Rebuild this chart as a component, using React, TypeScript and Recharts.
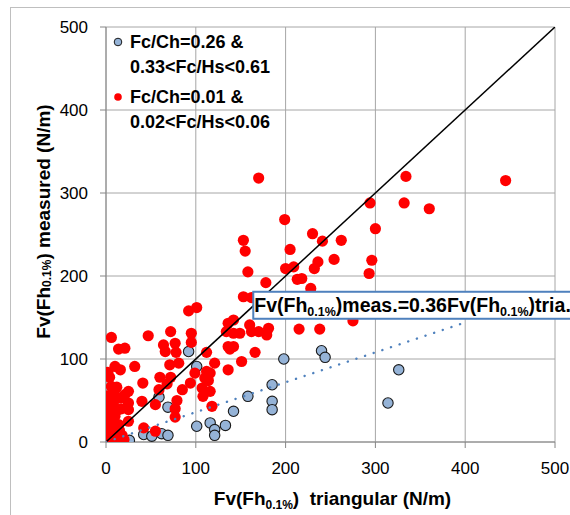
import React from 'react';
import {
  ScatterChart,
  Scatter,
  XAxis,
  YAxis,
  CartesianGrid,
  Legend,
  Label,
  ReferenceDot,
} from 'recharts';

// Axis ticks (N/m)
const axisTicks = [0, 100, 200, 300, 400, 500];

// Series 1: Fc/Ch=0.26 & 0.33<Fc/Hs<0.61
const seriesALabel = ['Fc/Ch=0.26 &', '0.33<Fc/Hs<0.61'];
const seriesAX = [3, 8, 13, 26, 42, 51, 62, 69, 59, 69, 92, 101, 101, 116, 121, 121, 133, 142, 158, 185, 185, 185, 198, 240, 244, 314, 326];
const seriesAY = [1, 2, 2, 2, 9, 7, 10, 8, 54, 42, 109, 91, 19, 23, 15, 8, 20, 37, 55, 69, 49, 39, 100, 110, 102, 47, 87];

// Series 2: Fc/Ch=0.01 & 0.02<Fc/Hs<0.06
const seriesBLabel = ['Fc/Ch=0.01 &', '0.02<Fc/Hs<0.06'];
const seriesBX = [
  445, 170, 334, 332, 360, 294, 300, 296, 293, 262,
  254, 241, 230, 236, 232, 205, 209, 213, 218, 228,
  215, 238, 275, 199, 153, 155, 158, 200, 178, 153,
  162, 101, 92, 142, 136, 142, 134, 149, 160, 162,
  170, 181, 179, 136, 142, 138, 166, 151, 121, 136,
  112, 116, 110, 114, 107, 116, 108, 118, 112, 99,
  6, 47, 72, 95, 14, 21, 64, 66, 77, 78,
  95, 10, 16, 32, 71, 81, 41, 6, 72, 68,
  85, 94, 25, 21, 16, 5, 25, 40, 55, 77,
  60, 59, 79, 77, 25, 42, 55, 25, 3, 6,
  10, 5, 8, 5, 14, 3, 1, 2, 4, 1,
  6, 3, 7, 2, 9, 12, 3, 9, 4, 2,
  10, 12, 6, 1, 15, 9, 17, 12, 0, 18, 20, 2,
];
const seriesBY = [
  315, 318, 320, 288, 281, 288, 257, 219, 203, 243,
  220, 242, 251, 217, 209, 232, 211, 196, 197, 185,
  136, 136, 146, 268, 243, 230, 205, 209, 192, 175,
  174, 162, 158, 147, 143, 131, 133, 131, 141, 133,
  133, 137, 129, 115, 115, 112, 108, 97, 95, 87,
  85, 83, 77, 74, 65, 61, 55, 43, 108, 83,
  126, 128, 133, 131, 112, 113, 117, 109, 119, 108,
  120, 91, 87, 91, 93, 95, 71, 67, 78, 70,
  63, 71, 61, 57, 53, 49, 47, 49, 45, 40,
  78, 63, 50, 30, 39, 17, 13, 25, 35, 37,
  31, 25, 19, 13, 21, 6, 2, 4, 9, 11,
  16, 20, 28, 44, 42, 38, 56, 60, 78, 84,
  8, 4, 3, 28, 14, 50, 40, 66, 0, 8, 3, 16,
];

// 1:1 reference line and linear fit through the origin for series 1
const identityX = [0, 500];
const trendSlope = 0.36;
const trendX = [0, 395];
const trendLabelAt = { x: 164, y: 181 };

const zip = (xs: number[], ys: number[]) => xs.map((x, i) => ({ x, y: ys[i] }));
const seriesA = zip(seriesAX, seriesAY);
const seriesB = zip(seriesBX, seriesBY);
const identityLine = identityX.map((x) => ({ x, y: x }));
const trendLine = trendX.map((x) => ({ x, y: trendSlope * x }));

const FONT = "'Liberation Sans', Arial, sans-serif";
const BLUE_FILL = '#95b3d7';
const RED_FILL = '#ff0000';
const GRID = '#a6a6a6';
const AXIS = '#868686';

const BlueDot = (p: any) => (
  <circle cx={p.cx} cy={p.cy} r={5.2} fill={BLUE_FILL} stroke="#1a1a1a" strokeWidth={1.1} />
);
const RedDot = (p: any) => <circle cx={p.cx} cy={p.cy} r={5.6} fill={RED_FILL} />;
const NoDot = () => <g />;

const XTitle = (props: any) => {
  const vb = props.viewBox;
  const cx = vb.x + vb.width / 2 + 2;
  const y = vb.y + 63;
  return (
    <text x={cx} y={y} textAnchor="middle" fontFamily={FONT} fontWeight="bold" fontSize={19} fill="#000" style={{ whiteSpace: 'pre' }}>
      <tspan>Fv(Fh</tspan>
      <tspan fontSize={12} dy={4}>0.1%</tspan>
      <tspan dy={-4}>)  triangular (N/m)</tspan>
    </text>
  );
};

const YTitle = (props: any) => {
  const vb = props.viewBox;
  const cx = 43;
  const cy = vb.y + vb.height / 2 - 13;
  return (
    <text
      x={cx}
      y={cy}
      textAnchor="middle"
      dominantBaseline="central"
      transform={`rotate(-90, ${cx}, ${cy})`}
      fontFamily={FONT}
      fontWeight="bold"
      fontSize={19}
      fill="#000"
    >
      <tspan>Fv(Fh</tspan>
      <tspan fontSize={12} dy={4}>0.1%</tspan>
      <tspan dy={-4}>) measured (N/m)</tspan>
    </text>
  );
};

const EquationTag = (props: any) => {
  const vb = props.viewBox;
  const left = vb.x + vb.width / 2;
  const top = vb.y + vb.height / 2;
  return (
    <g>
      <rect x={left} y={top} width={380} height={27} fill="#fff" stroke="#4f81bd" strokeWidth={2} />
      <text x={left + 1} y={top + 20} fontFamily={FONT} fontWeight="bold" fontSize={19.5} fill="#000">
        <tspan>Fv(Fh</tspan>
        <tspan fontSize={12.5} dy={4}>0.1%</tspan>
        <tspan dy={-4}>)meas.=0.36Fv(Fh</tspan>
        <tspan fontSize={12.5} dy={4}>0.1%</tspan>
        <tspan dy={-4}>)tria.</tspan>
      </text>
    </g>
  );
};

const legendItems = [
  { lines: seriesALabel, fill: BLUE_FILL, stroke: '#1a1a1a', top: 32 },
  { lines: seriesBLabel, fill: RED_FILL, stroke: 'none', top: 87 },
];

const LegendBox = () => (
  <div style={{ position: 'relative', width: 0, height: 0 }}>
    {legendItems.map((item, i) => (
      <React.Fragment key={i}>
        <svg
          width={10}
          height={10}
          style={{ position: 'absolute', left: 113, top: item.top + 5 }}
        >
          <circle cx={5} cy={5} r={3.8} fill={item.fill} stroke={item.stroke} strokeWidth={1} />
        </svg>
        {item.lines.map((line, j) => (
          <div
            key={j}
            style={{
              position: 'absolute',
              left: 130,
              top: item.top + j * 25,
              fontFamily: FONT,
              fontWeight: 'bold',
              fontSize: 18,
              lineHeight: '20px',
              whiteSpace: 'nowrap',
              color: '#000',
            }}
          >
            {line}
          </div>
        ))}
      </React.Fragment>
    ))}
  </div>
);

export default function App() {
  return (
    <div
      style={{
        position: 'absolute',
        left: 0,
        top: 0,
        width: 570,
        height: 515,
        overflow: 'hidden',
        background: '#fff',
      }}
    >
      <div
        style={{
          position: 'absolute',
          left: 10,
          top: 7,
          width: 620,
          height: 620,
          borderLeft: '1px solid #bfbfbf',
          borderTop: '1px solid #bfbfbf',
        }}
      />
      <ScatterChart width={570} height={515} margin={{ top: 27, right: 15, left: 0, bottom: 0 }}>
        <CartesianGrid stroke={GRID} strokeWidth={1} />
        <XAxis
          type="number"
          dataKey="x"
          domain={[0, 500]}
          ticks={axisTicks}
          allowDataOverflow
          height={73}
          stroke={AXIS}
          tickSize={6}
          tickMargin={14}
          tick={{ fill: '#000', fontSize: 17, fontFamily: FONT }}
        >
          <Label content={XTitle} />
        </XAxis>
        <YAxis
          type="number"
          dataKey="y"
          domain={[0, 500]}
          ticks={axisTicks}
          allowDataOverflow
          width={106}
          stroke={AXIS}
          tickSize={6}
          tickMargin={12}
          tick={{ fill: '#000', fontSize: 17, fontFamily: FONT }}
        >
          <Label content={YTitle} />
        </YAxis>
        <Legend content={<LegendBox />} wrapperStyle={{ left: 0, top: 0, width: 0, height: 0 }} />
        <Scatter name={seriesALabel.join(' ')} data={seriesA} shape={BlueDot} isAnimationActive={false} />
        <Scatter name={seriesBLabel.join(' ')} data={seriesB} shape={RedDot} isAnimationActive={false} />
        <Scatter
          name="1:1"
          data={identityLine}
          shape={NoDot}
          line={{ stroke: '#000', strokeWidth: 1.5 }}
          legendType="none"
          isAnimationActive={false}
        />
        <Scatter
          name="fit"
          data={trendLine}
          shape={NoDot}
          line={{ stroke: '#4f81bd', strokeWidth: 2.4, strokeDasharray: '0.1 9', strokeLinecap: 'round' }}
          legendType="none"
          isAnimationActive={false}
        />
        <ReferenceDot
          x={trendLabelAt.x}
          y={trendLabelAt.y}
          r={1}
          fill="none"
          stroke="none"
          label={<EquationTag />}
        />
      </ScatterChart>
    </div>
  );
}
